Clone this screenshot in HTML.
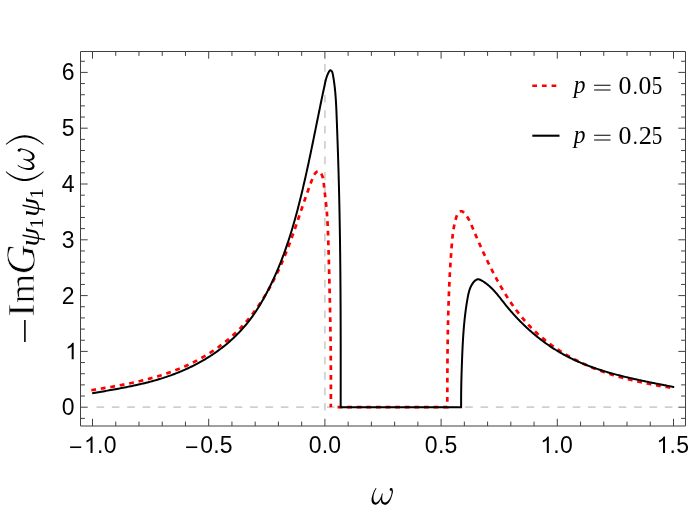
<!DOCTYPE html>
<html><head><meta charset="utf-8"><title>plot</title>
<style>
html,body{margin:0;padding:0;background:#fff;}
body{width:692px;height:523px;overflow:hidden;}
svg{display:block;}
.tl text{font-family:"Liberation Sans",sans-serif;font-size:23.0px;fill:#000;}
text{fill:#000;}
</style></head><body>
<svg width="692" height="523" viewBox="0 0 692 523">
<rect width="692" height="523" fill="#fff"/>
<!-- guide lines -->
<path d="M96.5 407.2 H680" stroke="#cfcfcf" stroke-width="1.7" stroke-dasharray="7.6 7.76" fill="none"/>
<path d="M324.9 410.6 V60" stroke="#cfcfcf" stroke-width="1.7" stroke-dasharray="7.7 7.7" fill="none"/>
<!-- curves -->
<path d="M91.30 390.05 L92.50 390.01 L93.64 389.83 L94.78 389.64 L95.92 389.46 L97.06 389.27 L98.21 389.08 L99.35 388.90 L100.49 388.71 L101.63 388.52 L102.78 388.33 L103.92 388.13 L105.06 387.94 L106.21 387.75 L107.35 387.55 L108.50 387.35 L109.64 387.16 L110.79 386.96 L111.93 386.75 L113.08 386.55 L114.22 386.34 L115.37 386.14 L116.51 385.93 L117.66 385.72 L118.80 385.50 L119.94 385.29 L121.09 385.07 L122.23 384.85 L123.38 384.63 L124.52 384.40 L125.66 384.17 L126.80 383.94 L127.94 383.71 L129.09 383.47 L130.23 383.23 L131.37 382.99 L132.51 382.75 L133.64 382.50 L134.78 382.25 L135.92 381.99 L137.06 381.74 L138.19 381.48 L139.33 381.21 L140.46 380.94 L141.59 380.67 L142.72 380.40 L143.86 380.12 L144.99 379.83 L146.11 379.55 L147.24 379.26 L148.37 378.96 L149.49 378.66 L150.62 378.36 L151.74 378.05 L152.86 377.74 L153.98 377.42 L155.10 377.10 L156.22 376.78 L157.33 376.44 L158.45 376.11 L159.56 375.77 L160.67 375.43 L161.78 375.08 L162.89 374.72 L163.99 374.36 L165.10 374.00 L166.20 373.62 L167.30 373.25 L168.40 372.87 L169.49 372.48 L170.59 372.09 L171.68 371.69 L172.77 371.29 L173.86 370.88 L174.95 370.46 L176.03 370.04 L177.11 369.61 L178.19 369.18 L179.27 368.74 L180.34 368.29 L181.42 367.84 L182.49 367.38 L183.55 366.92 L184.62 366.45 L185.68 365.97 L186.74 365.49 L187.80 365.00 L188.85 364.50 L189.91 364.00 L190.95 363.50 L192.00 362.98 L193.04 362.46 L194.08 361.94 L195.12 361.41 L196.15 360.87 L197.18 360.32 L198.20 359.77 L199.23 359.22 L200.25 358.65 L201.26 358.09 L202.27 357.51 L203.28 356.93 L204.29 356.34 L205.29 355.75 L206.28 355.15 L207.28 354.54 L208.26 353.93 L209.25 353.31 L210.23 352.69 L211.21 352.06 L212.18 351.42 L213.15 350.78 L214.11 350.13 L215.07 349.48 L216.02 348.82 L216.97 348.15 L217.92 347.48 L218.86 346.80 L219.79 346.11 L220.73 345.42 L221.65 344.72 L222.57 344.02 L223.49 343.31 L224.40 342.59 L225.31 341.87 L226.21 341.14 L227.10 340.41 L227.99 339.66 L228.88 338.92 L229.76 338.16 L230.63 337.41 L231.50 336.64 L232.36 335.87 L233.22 335.09 L234.07 334.31 L234.92 333.52 L235.76 332.72 L236.59 331.92 L237.42 331.11 L238.24 330.30 L239.06 329.47 L239.87 328.65 L240.67 327.81 L241.47 326.98 L242.26 326.13 L243.05 325.28 L243.83 324.42 L244.60 323.56 L245.37 322.69 L246.13 321.82 L246.88 320.94 L247.63 320.05 L248.38 319.16 L249.11 318.27 L249.85 317.37 L250.57 316.46 L251.29 315.55 L252.01 314.64 L252.72 313.72 L253.42 312.79 L254.12 311.86 L254.81 310.92 L255.50 309.99 L256.18 309.04 L256.85 308.09 L257.52 307.14 L258.19 306.18 L258.85 305.22 L259.50 304.26 L260.15 303.29 L260.80 302.31 L261.44 301.33 L262.07 300.35 L262.70 299.37 L263.32 298.38 L263.94 297.39 L264.55 296.39 L265.16 295.39 L265.76 294.39 L266.36 293.38 L266.95 292.37 L267.54 291.36 L268.13 290.34 L268.71 289.32 L269.28 288.30 L269.85 287.28 L270.41 286.25 L270.97 285.22 L271.53 284.19 L272.08 283.15 L272.62 282.11 L273.17 281.07 L273.70 280.03 L274.24 278.98 L274.76 277.94 L275.29 276.89 L275.81 275.84 L276.32 274.78 L276.83 273.73 L277.34 272.67 L277.84 271.61 L278.34 270.55 L278.83 269.49 L279.32 268.43 L279.81 267.36 L280.29 266.30 L280.77 265.23 L281.24 264.16 L281.71 263.09 L282.17 262.02 L282.64 260.95 L283.09 259.87 L283.55 258.80 L284.00 257.73 L284.44 256.65 L284.89 255.57 L285.32 254.50 L285.76 253.42 L286.19 252.34 L286.62 251.27 L287.04 250.19 L287.47 249.11 L287.88 248.03 L288.30 246.95 L288.71 245.87 L289.12 244.79 L289.53 243.71 L289.93 242.63 L290.33 241.55 L290.73 240.47 L291.12 239.39 L291.52 238.30 L291.91 237.22 L292.30 236.14 L292.69 235.05 L293.07 233.97 L293.46 232.88 L293.84 231.80 L294.22 230.71 L294.60 229.62 L294.98 228.53 L295.36 227.45 L295.73 226.36 L296.11 225.27 L296.48 224.18 L296.85 223.08 L297.23 221.99 L297.60 220.90 L297.97 219.81 L298.34 218.71 L298.71 217.62 L299.08 216.52 L299.45 215.43 L299.83 214.33 L300.20 213.23 L300.57 212.13 L300.94 211.03 L301.31 209.93 L301.69 208.83 L302.06 207.73 L302.43 206.63 L302.81 205.52 L303.19 204.42 L303.56 203.31 L303.94 202.21 L304.32 201.10 L304.70 199.99 L305.09 198.88 L305.47 197.77 L305.86 196.66 L306.25 195.55 L306.64 194.44 L307.03 193.32 L307.43 192.21 L307.82 191.09 L308.22 189.97 L308.62 188.86 L309.03 187.74 L309.44 186.62 L309.85 185.50 L310.26 184.37 L310.68 183.25 L311.10 182.13 L311.52 181.00 L311.94 179.87 L312.38 178.75 L312.83 177.64 L313.31 176.56 L313.83 175.52 L314.40 174.53 L315.03 173.60 L315.73 172.75 L316.51 172.00 L317.35 171.41 L318.20 171.14 L319.03 171.28 L319.82 171.81 L320.55 172.62 L321.20 173.63 L321.77 174.73 L322.25 175.85 L322.63 177.00 L322.95 178.15 L323.20 179.32 L323.41 180.50 L323.57 181.68 L323.71 182.87 L323.83 184.05 L323.95 185.23 L324.08 186.41 L324.20 187.59 L324.33 188.76 L324.46 189.93 L324.59 191.09 L324.73 192.25 L324.86 193.41 L325.00 194.57 L325.14 195.72 L325.27 196.87 L325.41 198.03 L325.54 199.18 L325.67 200.33 L325.80 201.48 L325.93 202.63 L326.05 203.78 L326.17 204.93 L326.28 206.08 L326.39 207.23 L326.50 208.38 L326.60 209.53 L326.70 210.69 L326.80 211.84 L326.89 213.00 L326.98 214.15 L327.06 215.31 L327.15 216.47 L327.22 217.63 L327.30 218.78 L327.37 219.94 L327.44 221.10 L327.51 222.26 L327.57 223.42 L327.63 224.58 L327.69 225.74 L327.75 226.91 L327.80 228.07 L327.85 229.23 L327.90 230.39 L327.95 231.56 L328.00 232.72 L328.04 233.88 L328.09 235.05 L328.13 236.21 L328.17 237.37 L328.21 238.54 L328.25 239.70 L328.28 240.87 L328.32 242.03 L328.35 243.20 L328.39 244.36 L328.42 245.53 L328.45 246.69 L328.49 247.86 L328.52 249.02 L328.55 250.19 L328.58 251.35 L328.62 252.52 L328.65 253.68 L328.68 254.84 L328.71 256.01 L328.74 257.17 L328.78 258.34 L328.81 259.50 L328.84 260.67 L328.87 261.83 L328.90 262.99 L328.93 264.16 L328.96 265.32 L328.99 266.49 L329.02 267.65 L329.06 268.81 L329.09 269.98 L329.12 271.14 L329.15 272.30 L329.18 273.47 L329.21 274.63 L329.24 275.79 L329.27 276.96 L329.30 278.12 L329.33 279.28 L329.36 280.45 L329.39 281.61 L329.41 282.77 L329.44 283.93 L329.47 285.10 L329.50 286.26 L329.53 287.42 L329.56 288.59 L329.59 289.75 L329.61 290.91 L329.64 292.07 L329.67 293.24 L329.70 294.40 L329.72 295.56 L329.75 296.72 L329.78 297.89 L329.80 299.05 L329.83 300.21 L329.85 301.37 L329.88 302.54 L329.91 303.70 L329.93 304.86 L329.96 306.02 L329.98 307.19 L330.01 308.35 L330.03 309.51 L330.05 310.67 L330.08 311.83 L330.10 313.00 L330.13 314.16 L330.15 315.32 L330.17 316.48 L330.19 317.65 L330.22 318.81 L330.24 319.97 L330.26 321.13 L330.28 322.29 L330.30 323.46 L330.32 324.62 L330.34 325.78 L330.36 326.94 L330.38 328.10 L330.40 329.27 L330.42 330.43 L330.44 331.59 L330.46 332.75 L330.48 333.92 L330.50 335.08 L330.51 336.24 L330.53 337.40 L330.55 338.56 L330.56 339.73 L330.58 340.89 L330.60 342.05 L330.61 343.21 L330.63 344.38 L330.64 345.54 L330.66 346.70 L330.67 347.86 L330.68 349.02 L330.70 350.19 L330.71 351.35 L330.72 352.51 L330.73 353.67 L330.75 354.84 L330.76 356.00 L330.77 357.16 L330.78 358.32 L330.79 359.49 L330.80 360.65 L330.81 361.81 L330.82 362.98 L330.82 364.14 L330.83 365.30 L330.84 366.46 L330.85 367.63 L330.85 368.79 L330.86 369.95 L330.87 371.12 L330.87 372.28 L330.88 373.44 L330.88 374.61 L330.88 375.77 L330.89 376.93 L330.89 378.10 L330.89 379.26 L330.90 380.42 L330.90 381.59 L330.90 382.75 L330.90 383.91 L330.90 385.08 L330.90 386.24 L330.90 387.40 L330.90 388.57 L330.89 389.73 L330.89 390.90 L330.89 392.06 L330.89 393.22 L330.88 394.39 L330.88 395.55 L330.87 396.72 L330.87 397.88 L330.86 399.05 L330.85 400.21 L330.85 401.38 L330.84 402.54 L330.83 403.71 L330.82 404.87 L330.81 406.04 L330.80 407.20" stroke="#ff0000" stroke-width="2.7" stroke-dasharray="4.8 4.810" fill="none" stroke-linejoin="miter"/>
<path d="M333.50 407.20 L447.30 407.20 L447.29 405.96 L447.29 404.73 L447.30 403.51 L447.30 402.28 L447.30 401.05 L447.30 399.82 L447.31 398.59 L447.31 397.35 L447.31 396.12 L447.31 394.89 L447.32 393.66 L447.32 392.43 L447.32 391.19 L447.33 389.96 L447.33 388.72 L447.33 387.49 L447.34 386.25 L447.34 385.02 L447.34 383.78 L447.35 382.55 L447.35 381.31 L447.36 380.07 L447.36 378.83 L447.37 377.60 L447.38 376.36 L447.38 375.12 L447.39 373.88 L447.39 372.64 L447.40 371.40 L447.41 370.16 L447.42 368.92 L447.42 367.68 L447.43 366.44 L447.44 365.20 L447.45 363.96 L447.46 362.72 L447.47 361.48 L447.48 360.23 L447.49 358.99 L447.50 357.75 L447.51 356.51 L447.52 355.26 L447.54 354.02 L447.55 352.78 L447.56 351.54 L447.58 350.29 L447.59 349.05 L447.61 347.80 L447.62 346.56 L447.64 345.32 L447.66 344.07 L447.67 342.83 L447.69 341.58 L447.71 340.34 L447.73 339.10 L447.75 337.85 L447.77 336.61 L447.79 335.36 L447.81 334.12 L447.83 332.87 L447.86 331.63 L447.88 330.38 L447.90 329.14 L447.93 327.90 L447.95 326.65 L447.98 325.41 L448.01 324.16 L448.03 322.92 L448.06 321.67 L448.09 320.43 L448.12 319.19 L448.15 317.94 L448.19 316.70 L448.22 315.45 L448.25 314.21 L448.29 312.97 L448.32 311.72 L448.36 310.48 L448.39 309.24 L448.43 307.99 L448.47 306.75 L448.51 305.51 L448.55 304.26 L448.59 303.02 L448.63 301.78 L448.67 300.54 L448.72 299.30 L448.76 298.05 L448.81 296.81 L448.86 295.57 L448.90 294.33 L448.95 293.09 L449.00 291.85 L449.05 290.61 L449.11 289.37 L449.16 288.13 L449.21 286.89 L449.27 285.65 L449.32 284.42 L449.38 283.18 L449.44 281.94 L449.50 280.70 L449.56 279.47 L449.62 278.23 L449.68 276.99 L449.75 275.76 L449.81 274.52 L449.88 273.29 L449.95 272.05 L450.02 270.82 L450.09 269.58 L450.16 268.35 L450.23 267.12 L450.30 265.89 L450.38 264.65 L450.46 263.42 L450.53 262.19 L450.61 260.96 L450.69 259.73 L450.77 258.50 L450.86 257.27 L450.94 256.04 L451.03 254.82 L451.11 253.59 L451.20 252.36 L451.29 251.14 L451.38 249.91 L451.47 248.69 L451.57 247.46 L451.66 246.24 L451.76 245.02 L451.86 243.79 L451.96 242.57 L452.06 241.35 L452.17 240.13 L452.29 238.90 L452.41 237.68 L452.54 236.45 L452.69 235.23 L452.84 234.00 L453.00 232.77 L453.17 231.53 L453.36 230.30 L453.56 229.06 L453.77 227.82 L454.00 226.57 L454.25 225.33 L454.52 224.07 L454.81 222.82 L455.11 221.56 L455.44 220.29 L455.79 219.02 L456.16 217.74 L456.55 216.46 L456.99 215.21 L457.49 214.05 L458.07 213.01 L458.76 212.17 L459.59 211.57 L460.52 211.25 L461.51 211.24 L462.50 211.56 L463.43 212.20 L464.31 213.05 L465.14 213.99 L465.91 214.96 L466.64 215.96 L467.33 216.99 L467.98 218.05 L468.60 219.12 L469.18 220.22 L469.74 221.33 L470.28 222.46 L470.80 223.60 L471.30 224.75 L471.79 225.91 L472.28 227.07 L472.77 228.22 L473.25 229.38 L473.74 230.54 L474.23 231.69 L474.71 232.85 L475.20 234.00 L475.69 235.15 L476.19 236.29 L476.68 237.44 L477.17 238.58 L477.67 239.72 L478.17 240.87 L478.67 242.00 L479.17 243.14 L479.67 244.28 L480.17 245.41 L480.68 246.55 L481.19 247.68 L481.70 248.81 L482.21 249.93 L482.72 251.06 L483.24 252.19 L483.76 253.31 L484.28 254.43 L484.80 255.55 L485.33 256.67 L485.86 257.79 L486.39 258.91 L486.92 260.02 L487.46 261.13 L488.00 262.25 L488.54 263.36 L489.09 264.46 L489.63 265.57 L490.18 266.68 L490.74 267.78 L491.30 268.89 L491.86 269.99 L492.42 271.09 L492.99 272.19 L493.56 273.29 L494.13 274.38 L494.71 275.48 L495.29 276.57 L495.88 277.66 L496.47 278.76 L497.06 279.84 L497.66 280.93 L498.26 282.02 L498.86 283.10 L499.47 284.18 L500.09 285.26 L500.70 286.33 L501.33 287.41 L501.95 288.48 L502.58 289.55 L503.22 290.61 L503.86 291.67 L504.51 292.73 L505.16 293.79 L505.81 294.84 L506.47 295.89 L507.14 296.94 L507.81 297.98 L508.48 299.02 L509.16 300.05 L509.85 301.09 L510.54 302.11 L511.24 303.14 L511.94 304.16 L512.65 305.17 L513.37 306.18 L514.09 307.19 L514.81 308.19 L515.55 309.19 L516.28 310.18 L517.03 311.17 L517.78 312.15 L518.54 313.13 L519.30 314.10 L520.07 315.07 L520.85 316.03 L521.63 316.99 L522.42 317.94 L523.22 318.89 L524.02 319.83 L524.83 320.76 L525.65 321.69 L526.47 322.61 L527.30 323.53 L528.14 324.44 L528.98 325.34 L529.84 326.24 L530.70 327.13 L531.57 328.01 L532.44 328.89 L533.32 329.76 L534.21 330.62 L535.11 331.48 L536.01 332.33 L536.92 333.17 L537.84 334.01 L538.77 334.83 L539.70 335.66 L540.63 336.47 L541.58 337.28 L542.53 338.08 L543.48 338.88 L544.45 339.67 L545.42 340.45 L546.39 341.22 L547.37 341.99 L548.35 342.75 L549.35 343.50 L550.34 344.25 L551.34 344.98 L552.35 345.72 L553.36 346.44 L554.38 347.16 L555.40 347.87 L556.43 348.57 L557.46 349.27 L558.50 349.95 L559.54 350.63 L560.59 351.31 L561.64 351.97 L562.69 352.63 L563.75 353.28 L564.81 353.93 L565.88 354.57 L566.95 355.19 L568.02 355.82 L569.10 356.43 L570.18 357.04 L571.27 357.64 L572.35 358.23 L573.45 358.81 L574.54 359.39 L575.64 359.96 L576.74 360.53 L577.84 361.08 L578.95 361.63 L580.06 362.17 L581.18 362.71 L582.29 363.24 L583.41 363.76 L584.54 364.27 L585.66 364.78 L586.79 365.28 L587.92 365.78 L589.06 366.27 L590.19 366.75 L591.33 367.22 L592.47 367.69 L593.62 368.16 L594.77 368.61 L595.92 369.07 L597.07 369.51 L598.22 369.95 L599.38 370.38 L600.54 370.81 L601.70 371.23 L602.87 371.65 L604.03 372.06 L605.20 372.46 L606.37 372.86 L607.55 373.25 L608.72 373.64 L609.90 374.02 L611.08 374.40 L612.26 374.77 L613.44 375.14 L614.62 375.50 L615.81 375.86 L617.00 376.21 L618.19 376.55 L619.38 376.89 L620.57 377.23 L621.77 377.56 L622.96 377.89 L624.16 378.21 L625.36 378.53 L626.56 378.84 L627.76 379.15 L628.97 379.46 L630.17 379.76 L631.38 380.05 L632.58 380.34 L633.79 380.63 L635.00 380.91 L636.21 381.19 L637.42 381.47 L638.63 381.74 L639.85 382.00 L641.06 382.27 L642.28 382.53 L643.49 382.78 L644.71 383.03 L645.93 383.28 L647.14 383.53 L648.36 383.77 L649.58 384.01 L650.80 384.24 L652.02 384.47 L653.24 384.70 L654.46 384.93 L655.69 385.15 L656.91 385.37 L658.13 385.58 L659.35 385.80 L660.57 386.01 L661.80 386.21 L663.02 386.42 L664.24 386.62 L665.47 386.82 L666.69 387.02 L667.91 387.21 L669.14 387.40 L670.36 387.59 L671.58 387.78 L672.80 387.96 L674.00 388.30" stroke="#ff0000" stroke-width="2.7" stroke-dasharray="4.8 4.8" stroke-dashoffset="5.6" fill="none" stroke-linejoin="miter"/>
<path d="M92.20 393.30 L93.76 393.06 L95.29 392.79 L96.83 392.51 L98.37 392.24 L99.91 391.97 L101.44 391.70 L102.98 391.43 L104.53 391.15 L106.07 390.88 L107.61 390.61 L109.15 390.34 L110.69 390.06 L112.23 389.78 L113.78 389.50 L115.32 389.22 L116.86 388.94 L118.40 388.65 L119.95 388.37 L121.49 388.07 L123.03 387.78 L124.57 387.48 L126.11 387.18 L127.65 386.87 L129.18 386.56 L130.72 386.25 L132.26 385.93 L133.79 385.60 L135.33 385.27 L136.86 384.94 L138.39 384.59 L139.92 384.25 L141.44 383.89 L142.97 383.53 L144.49 383.16 L146.02 382.79 L147.54 382.41 L149.05 382.02 L150.57 381.62 L152.08 381.21 L153.60 380.80 L155.10 380.38 L156.61 379.94 L158.11 379.50 L159.61 379.05 L161.11 378.59 L162.61 378.12 L164.10 377.65 L165.59 377.15 L167.07 376.65 L168.56 376.14 L170.04 375.62 L171.51 375.09 L172.98 374.55 L174.45 373.99 L175.91 373.43 L177.37 372.85 L178.83 372.27 L180.28 371.67 L181.72 371.06 L183.16 370.45 L184.60 369.82 L186.03 369.18 L187.45 368.52 L188.87 367.86 L190.29 367.19 L191.70 366.50 L193.10 365.81 L194.50 365.10 L195.89 364.38 L197.27 363.65 L198.65 362.91 L200.02 362.16 L201.39 361.40 L202.75 360.62 L204.10 359.83 L205.44 359.04 L206.78 358.23 L208.11 357.40 L209.43 356.57 L210.74 355.73 L212.05 354.87 L213.35 354.00 L214.64 353.12 L215.92 352.23 L217.19 351.33 L218.46 350.41 L219.72 349.49 L220.96 348.55 L222.20 347.60 L223.43 346.63 L224.65 345.66 L225.86 344.67 L227.06 343.67 L228.25 342.66 L229.44 341.63 L230.61 340.60 L231.77 339.55 L232.92 338.49 L234.06 337.42 L235.19 336.33 L236.31 335.23 L237.42 334.12 L238.52 333.00 L239.61 331.86 L240.68 330.71 L241.74 329.55 L242.80 328.38 L243.84 327.20 L244.87 326.00 L245.88 324.79 L246.89 323.57 L247.88 322.34 L248.86 321.10 L249.82 319.85 L250.77 318.60 L251.71 317.33 L252.64 316.06 L253.55 314.77 L254.45 313.48 L255.33 312.19 L256.20 310.89 L257.05 309.58 L257.89 308.26 L258.71 306.94 L259.53 305.62 L260.33 304.29 L261.12 302.95 L261.90 301.61 L262.67 300.26 L263.43 298.90 L264.18 297.54 L264.93 296.18 L265.67 294.80 L266.41 293.42 L267.14 292.04 L267.86 290.65 L268.57 289.26 L269.28 287.86 L269.98 286.45 L270.67 285.05 L271.35 283.64 L272.03 282.22 L272.70 280.80 L273.36 279.38 L274.02 277.95 L274.67 276.52 L275.31 275.09 L275.94 273.65 L276.57 272.21 L277.19 270.77 L277.80 269.33 L278.41 267.88 L279.01 266.43 L279.60 264.98 L280.18 263.53 L280.76 262.07 L281.33 260.61 L281.90 259.15 L282.46 257.69 L283.01 256.22 L283.56 254.76 L284.10 253.29 L284.63 251.81 L285.16 250.34 L285.68 248.86 L286.20 247.39 L286.71 245.91 L287.21 244.42 L287.71 242.94 L288.21 241.45 L288.70 239.97 L289.18 238.48 L289.66 236.99 L290.13 235.49 L290.60 234.00 L291.07 232.50 L291.53 231.01 L291.98 229.51 L292.43 228.01 L292.88 226.51 L293.32 225.00 L293.75 223.50 L294.19 221.99 L294.61 220.49 L295.04 218.98 L295.46 217.47 L295.88 215.96 L296.29 214.45 L296.70 212.94 L297.10 211.42 L297.50 209.91 L297.90 208.39 L298.30 206.88 L298.69 205.36 L299.08 203.84 L299.46 202.33 L299.85 200.81 L300.23 199.29 L300.60 197.77 L300.98 196.25 L301.35 194.73 L301.72 193.20 L302.08 191.68 L302.45 190.16 L302.81 188.64 L303.17 187.11 L303.52 185.59 L303.88 184.06 L304.23 182.54 L304.58 181.01 L304.93 179.49 L305.27 177.96 L305.62 176.43 L305.96 174.90 L306.30 173.38 L306.63 171.85 L306.97 170.32 L307.31 168.79 L307.64 167.26 L307.97 165.73 L308.30 164.20 L308.63 162.67 L308.95 161.14 L309.28 159.61 L309.60 158.07 L309.93 156.54 L310.25 155.01 L310.57 153.48 L310.89 151.94 L311.21 150.41 L311.53 148.88 L311.84 147.34 L312.16 145.81 L312.47 144.27 L312.79 142.74 L313.10 141.20 L313.42 139.67 L313.73 138.13 L314.04 136.60 L314.35 135.06 L314.66 133.53 L314.98 131.99 L315.29 130.45 L315.60 128.92 L315.91 127.38 L316.22 125.84 L316.53 124.31 L316.84 122.77 L317.15 121.23 L317.46 119.69 L317.77 118.16 L318.09 116.62 L318.40 115.08 L318.71 113.54 L319.02 112.01 L319.34 110.47 L319.65 108.93 L319.97 107.39 L320.28 105.86 L320.60 104.32 L320.92 102.78 L321.23 101.24 L321.55 99.70 L321.87 98.17 L322.19 96.63 L322.52 95.09 L322.84 93.55 L323.16 92.02 L323.49 90.48 L323.82 88.94 L324.15 87.40 L324.48 85.87 L324.81 84.33 L325.14 82.79 L325.49 81.26 L325.87 79.74 L326.29 78.24 L326.75 76.75 L327.27 75.29 L327.87 73.85 L328.55 72.45 L329.33 71.09 L330.27 70.19 L331.39 70.77 L332.20 72.03 L332.66 73.52 L332.97 75.10 L333.25 76.69 L333.51 78.28 L333.76 79.86 L334.00 81.44 L334.22 83.02 L334.42 84.60 L334.61 86.17 L334.80 87.74 L334.96 89.31 L335.12 90.88 L335.27 92.45 L335.41 94.01 L335.53 95.58 L335.65 97.14 L335.76 98.71 L335.87 100.27 L335.96 101.83 L336.05 103.39 L336.14 104.95 L336.21 106.50 L336.29 108.06 L336.36 109.62 L336.43 111.18 L336.49 112.74 L336.55 114.30 L336.61 115.86 L336.67 117.41 L336.73 118.97 L336.79 120.53 L336.85 122.09 L336.91 123.66 L336.97 125.22 L337.02 126.78 L337.08 128.34 L337.14 129.91 L337.20 131.47 L337.26 133.03 L337.31 134.60 L337.37 136.16 L337.42 137.73 L337.48 139.29 L337.54 140.86 L337.59 142.42 L337.65 143.99 L337.70 145.55 L337.75 147.12 L337.81 148.69 L337.86 150.26 L337.91 151.82 L337.97 153.39 L338.02 154.96 L338.07 156.52 L338.12 158.09 L338.17 159.66 L338.22 161.23 L338.27 162.79 L338.32 164.36 L338.36 165.93 L338.41 167.50 L338.46 169.07 L338.50 170.63 L338.55 172.20 L338.59 173.77 L338.64 175.34 L338.68 176.90 L338.72 178.47 L338.77 180.04 L338.81 181.61 L338.85 183.17 L338.89 184.74 L338.93 186.31 L338.97 187.87 L339.01 189.44 L339.05 191.01 L339.08 192.58 L339.12 194.14 L339.16 195.71 L339.19 197.28 L339.23 198.84 L339.27 200.41 L339.30 201.98 L339.33 203.54 L339.37 205.11 L339.40 206.68 L339.43 208.25 L339.46 209.81 L339.50 211.38 L339.53 212.95 L339.56 214.51 L339.59 216.08 L339.62 217.65 L339.64 219.21 L339.67 220.78 L339.70 222.35 L339.73 223.91 L339.75 225.48 L339.78 227.05 L339.81 228.61 L339.83 230.18 L339.86 231.74 L339.88 233.31 L339.91 234.88 L339.93 236.44 L339.95 238.01 L339.97 239.58 L340.00 241.14 L340.02 242.71 L340.04 244.28 L340.06 245.84 L340.08 247.41 L340.10 248.97 L340.12 250.54 L340.14 252.11 L340.16 253.67 L340.18 255.24 L340.20 256.81 L340.21 258.37 L340.23 259.94 L340.25 261.50 L340.26 263.07 L340.28 264.64 L340.30 266.20 L340.31 267.77 L340.33 269.34 L340.34 270.90 L340.36 272.47 L340.37 274.03 L340.38 275.60 L340.40 277.17 L340.41 278.73 L340.42 280.30 L340.43 281.87 L340.45 283.43 L340.46 285.00 L340.47 286.56 L340.48 288.13 L340.49 289.70 L340.50 291.26 L340.51 292.83 L340.52 294.39 L340.53 295.96 L340.54 297.53 L340.55 299.09 L340.55 300.66 L340.56 302.23 L340.57 303.79 L340.58 305.36 L340.59 306.92 L340.59 308.49 L340.60 310.06 L340.61 311.62 L340.61 313.19 L340.62 314.76 L340.62 316.32 L340.63 317.89 L340.64 319.45 L340.64 321.02 L340.65 322.59 L340.65 324.15 L340.65 325.72 L340.66 327.29 L340.66 328.85 L340.67 330.42 L340.67 331.98 L340.67 333.55 L340.68 335.12 L340.68 336.68 L340.68 338.25 L340.68 339.82 L340.69 341.38 L340.69 342.95 L340.69 344.52 L340.69 346.08 L340.69 347.65 L340.70 349.22 L340.70 350.78 L340.70 352.35 L340.70 353.92 L340.70 355.48 L340.70 357.05 L340.70 358.62 L340.70 360.18 L340.70 361.75 L340.70 363.32 L340.70 364.88 L340.70 366.45 L340.70 368.02 L340.70 369.59 L340.70 371.15 L340.70 372.72 L340.70 374.29 L340.70 375.85 L340.70 377.42 L340.70 378.99 L340.70 380.56 L340.69 382.12 L340.69 383.69 L340.69 385.26 L340.69 386.83 L340.69 388.39 L340.69 389.96 L340.69 391.53 L340.68 393.10 L340.68 394.66 L340.68 396.23 L340.68 397.80 L340.68 399.37 L340.68 400.93 L340.67 402.50 L340.67 404.07 L340.67 405.64 L340.70 407.20 L461.10 407.20 L461.12 406.28 L461.12 405.37 L461.11 404.47 L461.11 403.56 L461.11 402.66 L461.11 401.75 L461.11 400.84 L461.11 399.94 L461.11 399.03 L461.11 398.12 L461.12 397.21 L461.13 396.30 L461.13 395.39 L461.14 394.48 L461.15 393.57 L461.16 392.66 L461.17 391.75 L461.18 390.84 L461.20 389.93 L461.21 389.02 L461.22 388.11 L461.24 387.19 L461.26 386.28 L461.27 385.37 L461.29 384.46 L461.31 383.55 L461.33 382.63 L461.35 381.72 L461.37 380.81 L461.40 379.90 L461.42 378.98 L461.44 378.07 L461.47 377.16 L461.49 376.24 L461.52 375.33 L461.54 374.42 L461.57 373.51 L461.60 372.59 L461.63 371.68 L461.66 370.77 L461.69 369.86 L461.72 368.94 L461.75 368.03 L461.78 367.12 L461.81 366.21 L461.84 365.30 L461.87 364.39 L461.91 363.48 L461.94 362.57 L461.97 361.66 L462.01 360.75 L462.04 359.84 L462.08 358.93 L462.11 358.02 L462.15 357.11 L462.18 356.20 L462.22 355.29 L462.26 354.39 L462.30 353.48 L462.33 352.57 L462.37 351.66 L462.41 350.76 L462.45 349.85 L462.50 348.94 L462.54 348.04 L462.58 347.13 L462.63 346.23 L462.67 345.32 L462.72 344.42 L462.77 343.51 L462.82 342.61 L462.87 341.70 L462.92 340.80 L462.97 339.89 L463.03 338.99 L463.08 338.08 L463.14 337.18 L463.20 336.28 L463.26 335.37 L463.32 334.47 L463.38 333.56 L463.45 332.66 L463.51 331.76 L463.58 330.85 L463.65 329.95 L463.72 329.04 L463.80 328.14 L463.87 327.23 L463.95 326.33 L464.03 325.43 L464.11 324.52 L464.20 323.62 L464.28 322.71 L464.37 321.81 L464.46 320.90 L464.55 320.00 L464.65 319.10 L464.75 318.19 L464.85 317.28 L464.95 316.38 L465.05 315.47 L465.16 314.57 L465.27 313.66 L465.38 312.76 L465.50 311.85 L465.62 310.94 L465.74 310.04 L465.86 309.13 L465.99 308.22 L466.12 307.31 L466.25 306.41 L466.39 305.50 L466.52 304.59 L466.67 303.68 L466.81 302.77 L466.96 301.86 L467.11 300.95 L467.26 300.04 L467.42 299.13 L467.58 298.22 L467.75 297.31 L467.92 296.40 L468.10 295.49 L468.28 294.59 L468.48 293.69 L468.70 292.80 L468.93 291.91 L469.17 291.03 L469.44 290.16 L469.73 289.30 L470.04 288.45 L470.37 287.61 L470.73 286.79 L471.12 285.98 L471.55 285.18 L472.00 284.41 L472.49 283.65 L473.02 282.91 L473.58 282.19 L474.18 281.50 L474.82 280.86 L475.50 280.30 L476.20 279.84 L476.94 279.51 L477.70 279.32 L478.48 279.31 L479.28 279.45 L480.09 279.72 L480.91 280.09 L481.73 280.53 L482.54 281.02 L483.34 281.53 L484.13 282.05 L484.91 282.59 L485.67 283.14 L486.43 283.70 L487.16 284.27 L487.89 284.86 L488.60 285.45 L489.30 286.06 L489.98 286.67 L490.66 287.30 L491.32 287.93 L491.97 288.57 L492.61 289.22 L493.24 289.88 L493.87 290.54 L494.48 291.21 L495.09 291.89 L495.69 292.57 L496.28 293.25 L496.87 293.95 L497.45 294.64 L498.02 295.34 L498.60 296.05 L499.16 296.75 L499.73 297.46 L500.29 298.17 L500.85 298.89 L501.41 299.60 L501.97 300.31 L502.53 301.03 L503.09 301.74 L503.65 302.46 L504.21 303.17 L504.78 303.88 L505.34 304.59 L505.91 305.30 L506.49 306.01 L507.06 306.71 L507.64 307.41 L508.22 308.11 L508.81 308.81 L509.40 309.50 L509.99 310.20 L510.58 310.89 L511.18 311.57 L511.78 312.26 L512.38 312.94 L512.99 313.62 L513.59 314.30 L514.21 314.98 L514.82 315.65 L515.44 316.32 L516.06 316.99 L516.68 317.65 L517.31 318.32 L517.93 318.98 L518.57 319.63 L519.20 320.29 L519.84 320.94 L520.48 321.59 L521.12 322.24 L521.77 322.88 L522.42 323.52 L523.07 324.16 L523.72 324.80 L524.38 325.43 L525.04 326.06 L525.70 326.69 L526.37 327.31 L527.03 327.93 L527.70 328.55 L528.38 329.16 L529.05 329.78 L529.73 330.38 L530.41 330.99 L531.10 331.59 L531.78 332.19 L532.47 332.79 L533.17 333.38 L533.86 333.97 L534.56 334.56 L535.26 335.14 L535.96 335.72 L536.67 336.29 L537.37 336.87 L538.08 337.44 L538.80 338.00 L539.51 338.56 L540.23 339.12 L540.95 339.68 L541.67 340.23 L542.40 340.78 L543.13 341.32 L543.86 341.86 L544.59 342.40 L545.33 342.94 L546.07 343.47 L546.81 343.99 L547.55 344.51 L548.30 345.03 L549.04 345.55 L549.80 346.06 L550.55 346.57 L551.30 347.07 L552.06 347.57 L552.82 348.06 L553.59 348.55 L554.35 349.04 L555.12 349.52 L555.89 350.00 L556.66 350.48 L557.44 350.95 L558.21 351.42 L558.99 351.88 L559.77 352.34 L560.56 352.79 L561.34 353.24 L562.13 353.69 L562.92 354.13 L563.72 354.57 L564.51 355.00 L565.31 355.43 L566.11 355.85 L566.91 356.27 L567.72 356.69 L568.52 357.10 L569.33 357.51 L570.14 357.91 L570.96 358.31 L571.77 358.71 L572.59 359.10 L573.41 359.48 L574.23 359.87 L575.05 360.25 L575.88 360.62 L576.70 361.00 L577.53 361.36 L578.36 361.73 L579.19 362.09 L580.03 362.45 L580.86 362.80 L581.70 363.15 L582.54 363.50 L583.38 363.84 L584.22 364.18 L585.07 364.52 L585.91 364.85 L586.76 365.18 L587.61 365.50 L588.46 365.83 L589.31 366.15 L590.16 366.46 L591.02 366.78 L591.87 367.09 L592.73 367.39 L593.59 367.70 L594.45 368.00 L595.31 368.30 L596.17 368.59 L597.04 368.88 L597.90 369.17 L598.77 369.46 L599.64 369.74 L600.51 370.02 L601.37 370.30 L602.25 370.57 L603.12 370.85 L603.99 371.11 L604.87 371.38 L605.74 371.65 L606.62 371.91 L607.49 372.17 L608.37 372.42 L609.25 372.68 L610.13 372.93 L611.01 373.18 L611.89 373.43 L612.77 373.67 L613.66 373.92 L614.54 374.16 L615.42 374.39 L616.31 374.63 L617.20 374.86 L618.08 375.10 L618.97 375.33 L619.86 375.55 L620.74 375.78 L621.63 376.00 L622.52 376.23 L623.41 376.45 L624.30 376.67 L625.19 376.88 L626.08 377.10 L626.97 377.31 L627.86 377.52 L628.76 377.73 L629.65 377.94 L630.54 378.15 L631.43 378.35 L632.33 378.55 L633.22 378.76 L634.11 378.96 L635.01 379.16 L635.90 379.35 L636.79 379.55 L637.69 379.75 L638.58 379.94 L639.47 380.13 L640.37 380.32 L641.26 380.51 L642.15 380.70 L643.05 380.89 L643.94 381.08 L644.83 381.26 L645.73 381.45 L646.62 381.63 L647.51 381.82 L648.40 382.00 L649.30 382.18 L650.19 382.36 L651.08 382.54 L651.97 382.72 L652.86 382.90 L653.75 383.08 L654.64 383.25 L655.53 383.43 L656.42 383.61 L657.30 383.78 L658.19 383.96 L659.08 384.13 L659.97 384.31 L660.85 384.48 L661.74 384.65 L662.62 384.83 L663.51 385.00 L664.39 385.17 L665.27 385.34 L666.15 385.52 L667.03 385.69 L667.91 385.86 L668.79 386.03 L669.67 386.21 L670.55 386.38 L671.42 386.55 L672.30 386.72 L673.17 386.89 L674.20 386.90" stroke="#000" stroke-width="2.0" fill="none" stroke-linejoin="miter" stroke-miterlimit="10"/>
<!-- frame -->
<path d="M92.50 426.00 v-7.20 M92.50 51.50 v7.20 M115.74 426.00 v-4.40 M115.74 51.50 v4.40 M138.98 426.00 v-4.40 M138.98 51.50 v4.40 M162.22 426.00 v-4.40 M162.22 51.50 v4.40 M185.46 426.00 v-4.40 M185.46 51.50 v4.40 M208.70 426.00 v-7.20 M208.70 51.50 v7.20 M231.94 426.00 v-4.40 M231.94 51.50 v4.40 M255.18 426.00 v-4.40 M255.18 51.50 v4.40 M278.42 426.00 v-4.40 M278.42 51.50 v4.40 M301.66 426.00 v-4.40 M301.66 51.50 v4.40 M324.90 426.00 v-7.20 M324.90 51.50 v7.20 M348.14 426.00 v-4.40 M348.14 51.50 v4.40 M371.38 426.00 v-4.40 M371.38 51.50 v4.40 M394.62 426.00 v-4.40 M394.62 51.50 v4.40 M417.86 426.00 v-4.40 M417.86 51.50 v4.40 M441.10 426.00 v-7.20 M441.10 51.50 v7.20 M464.34 426.00 v-4.40 M464.34 51.50 v4.40 M487.58 426.00 v-4.40 M487.58 51.50 v4.40 M510.82 426.00 v-4.40 M510.82 51.50 v4.40 M534.06 426.00 v-4.40 M534.06 51.50 v4.40 M557.30 426.00 v-7.20 M557.30 51.50 v7.20 M580.54 426.00 v-4.40 M580.54 51.50 v4.40 M603.78 426.00 v-4.40 M603.78 51.50 v4.40 M627.02 426.00 v-4.40 M627.02 51.50 v4.40 M650.26 426.00 v-4.40 M650.26 51.50 v4.40 M673.50 426.00 v-7.20 M673.50 51.50 v7.20 M80.50 418.36 h4.40 M685.50 418.36 h-4.40 M80.50 407.20 h7.20 M685.50 407.20 h-7.20 M80.50 396.04 h4.40 M685.50 396.04 h-4.40 M80.50 384.88 h4.40 M685.50 384.88 h-4.40 M80.50 373.72 h4.40 M685.50 373.72 h-4.40 M80.50 362.56 h4.40 M685.50 362.56 h-4.40 M80.50 351.40 h7.20 M685.50 351.40 h-7.20 M80.50 340.24 h4.40 M685.50 340.24 h-4.40 M80.50 329.08 h4.40 M685.50 329.08 h-4.40 M80.50 317.92 h4.40 M685.50 317.92 h-4.40 M80.50 306.76 h4.40 M685.50 306.76 h-4.40 M80.50 295.60 h7.20 M685.50 295.60 h-7.20 M80.50 284.44 h4.40 M685.50 284.44 h-4.40 M80.50 273.28 h4.40 M685.50 273.28 h-4.40 M80.50 262.12 h4.40 M685.50 262.12 h-4.40 M80.50 250.96 h4.40 M685.50 250.96 h-4.40 M80.50 239.80 h7.20 M685.50 239.80 h-7.20 M80.50 228.64 h4.40 M685.50 228.64 h-4.40 M80.50 217.48 h4.40 M685.50 217.48 h-4.40 M80.50 206.32 h4.40 M685.50 206.32 h-4.40 M80.50 195.16 h4.40 M685.50 195.16 h-4.40 M80.50 184.00 h7.20 M685.50 184.00 h-7.20 M80.50 172.84 h4.40 M685.50 172.84 h-4.40 M80.50 161.68 h4.40 M685.50 161.68 h-4.40 M80.50 150.52 h4.40 M685.50 150.52 h-4.40 M80.50 139.36 h4.40 M685.50 139.36 h-4.40 M80.50 128.20 h7.20 M685.50 128.20 h-7.20 M80.50 117.04 h4.40 M685.50 117.04 h-4.40 M80.50 105.88 h4.40 M685.50 105.88 h-4.40 M80.50 94.72 h4.40 M685.50 94.72 h-4.40 M80.50 83.56 h4.40 M685.50 83.56 h-4.40 M80.50 72.40 h7.20 M685.50 72.40 h-7.20 M80.50 61.24 h4.40 M685.50 61.24 h-4.40" stroke="#404040" stroke-width="1" fill="none"/>
<path d="M80.5 51.5 H685.5 V426.0 H80.5 Z" stroke="#404040" stroke-width="1" fill="none"/>
<g class="tl" opacity="0.999"><text x="68.91" y="454.80">−</text><path transform="translate(83.99 453.00) scale(0.01123 -0.01123)" d="M763 0H583V1147Q518 1085 412.5 1023T223 930V1104Q373 1174.5 485.5 1275T645 1470H763Z" fill="#000"/><text x="97.03" y="453.00">.</text><text x="103.67" y="453.00">0</text><text x="185.11" y="454.80">−</text><text x="200.19" y="453.00">0</text><text x="213.23" y="453.00">.</text><text x="219.87" y="453.00">5</text><text x="308.66" y="453.00">0</text><text x="321.70" y="453.00">.</text><text x="328.35" y="453.00">0</text><text x="424.86" y="453.00">0</text><text x="437.90" y="453.00">.</text><text x="444.55" y="453.00">5</text><path transform="translate(540.26 453.00) scale(0.01123 -0.01123)" d="M763 0H583V1147Q518 1085 412.5 1023T223 930V1104Q373 1174.5 485.5 1275T645 1470H763Z" fill="#000"/><text x="553.30" y="453.00">.</text><text x="559.94" y="453.00">0</text><path transform="translate(656.46 453.00) scale(0.01123 -0.01123)" d="M763 0H583V1147Q518 1085 412.5 1023T223 930V1104Q373 1174.5 485.5 1275T645 1470H763Z" fill="#000"/><text x="669.50" y="453.00">.</text><text x="676.14" y="453.00">5</text><text x="61.81" y="415.10">0</text><path transform="translate(65.12 359.30) scale(0.01123 -0.01123)" d="M763 0H583V1147Q518 1085 412.5 1023T223 930V1104Q373 1174.5 485.5 1275T645 1470H763Z" fill="#000"/><text x="61.81" y="303.50">2</text><text x="61.81" y="247.70">3</text><text x="61.81" y="191.90">4</text><text x="61.81" y="136.10">5</text><text x="61.81" y="80.30">6</text></g>
<!-- legend -->
<path d="M532.3 85.8 H557" stroke="#ff0000" stroke-width="2.6" stroke-dasharray="4.7 4.95" fill="none"/>
<path d="M532.3 135.7 H559.5" stroke="#000" stroke-width="2.1" fill="none"/>
<g style="filter:opacity(0.999)"><path d="M594.1 85.25 H610.5 M594.1 90 H610.5 M594.1 135.25 H610.5 M594.1 140 H610.5" stroke="#000" stroke-width="1.1" fill="none"/><text transform="translate(573.68 93.39) scale(0.9606 1.0410)" font-family='"Liberation Serif",serif' font-style="italic" font-size="24.43" >p</text><text transform="translate(618.61 94.25) scale(1.0091 0.9910)" font-family='"Liberation Serif",serif' font-style="normal" font-size="25.72" >0</text><text transform="translate(632.66 94.11) scale(1.0000 1.0000)" font-family='"Liberation Serif",serif' font-style="normal" font-size="20.31" >.</text><text transform="translate(638.42 94.25) scale(1.0045 0.9955)" font-family='"Liberation Serif",serif' font-style="normal" font-size="25.60" >0</text><text transform="translate(651.77 94.25) scale(0.9082 1.1011)" font-family='"Liberation Serif",serif' font-style="normal" font-size="23.23" >5</text><text transform="translate(573.68 143.39) scale(0.9606 1.0410)" font-family='"Liberation Serif",serif' font-style="italic" font-size="24.43" >p</text><text transform="translate(618.61 144.25) scale(1.0091 0.9910)" font-family='"Liberation Serif",serif' font-style="normal" font-size="25.72" >0</text><text transform="translate(632.66 144.11) scale(1.0000 1.0000)" font-family='"Liberation Serif",serif' font-style="normal" font-size="20.31" >.</text><text transform="translate(638.64 144.30) scale(1.0148 0.9854)" font-family='"Liberation Serif",serif' font-style="normal" font-size="26.06" >2</text><text transform="translate(651.77 144.25) scale(0.9082 1.1011)" font-family='"Liberation Serif",serif' font-style="normal" font-size="23.23" >5</text></g>
<!-- x label -->
<path d="M375.83 487.88 L375.57 488.25 L375.31 488.64 L375.05 489.04 L374.80 489.47 L374.55 489.91 L374.32 490.36 L374.08 490.83 L373.86 491.31 L373.65 491.80 L373.44 492.29 L373.23 492.80 L373.04 493.31 L372.86 493.82 L372.68 494.34 L372.51 494.86 L372.34 495.38 L372.19 495.90 L372.05 496.42 L371.92 496.94 L371.81 497.46 L371.71 497.98 L371.63 498.49 L371.57 499.00 L371.54 499.42 L371.53 499.83 L371.53 500.23 L371.56 500.62 L371.61 500.99 L371.68 501.35 L371.77 501.70 L371.87 502.04 L372.00 502.36 L372.15 502.66 L372.33 502.95 L372.52 503.22 L372.73 503.48 L372.96 503.71 L373.21 503.92 L373.47 504.10 L373.75 504.26 L374.05 504.39 L374.35 504.49 L374.66 504.57 L374.97 504.62 L375.28 504.63 L375.63 504.63 L376.08 504.56 L376.54 504.43 L376.98 504.25 L377.40 504.02 L377.79 503.74 L378.16 503.42 L378.52 503.07 L378.86 502.69 L379.18 502.27 L379.50 501.83 L379.80 501.35 L380.10 500.86 L380.39 500.33 L380.67 499.78 L380.94 499.21 L381.21 498.61 L381.47 497.99 L381.72 497.34 L381.96 496.67 L382.19 495.99 L382.40 495.28 L382.60 494.55 L382.79 493.81 L381.91 493.59 L381.73 494.32 L381.53 495.02 L381.32 495.70 L381.09 496.36 L380.84 497.00 L380.58 497.61 L380.31 498.19 L380.03 498.75 L379.73 499.27 L379.42 499.75 L379.10 500.21 L378.77 500.62 L378.44 500.99 L378.11 501.33 L377.78 501.62 L377.45 501.87 L377.13 502.07 L376.82 502.24 L376.53 502.36 L376.27 502.44 L376.02 502.48 L375.80 502.49 L375.57 502.47 L375.45 502.45 L375.32 502.41 L375.19 502.37 L375.08 502.33 L374.98 502.27 L374.88 502.21 L374.78 502.14 L374.69 502.06 L374.60 501.98 L374.51 501.88 L374.43 501.77 L374.34 501.64 L374.25 501.50 L374.16 501.34 L374.07 501.16 L373.99 500.97 L373.91 500.75 L373.83 500.51 L373.76 500.25 L373.69 499.97 L373.63 499.67 L373.58 499.35 L373.53 499.00 L373.49 498.56 L373.46 498.10 L373.45 497.63 L373.46 497.15 L373.49 496.66 L373.53 496.16 L373.60 495.66 L373.68 495.15 L373.78 494.65 L373.90 494.14 L374.04 493.64 L374.19 493.14 L374.36 492.65 L374.54 492.16 L374.73 491.69 L374.93 491.23 L375.14 490.78 L375.36 490.34 L375.59 489.92 L375.83 489.52 L376.07 489.13 L376.31 488.77 L376.57 488.42Z M381.90 493.58 L381.71 494.24 L381.53 494.91 L381.38 495.57 L381.24 496.22 L381.12 496.86 L381.02 497.49 L380.94 498.10 L380.88 498.71 L380.85 499.29 L380.84 499.87 L380.87 500.43 L380.93 500.97 L381.04 501.50 L381.19 502.01 L381.38 502.49 L381.64 502.95 L381.96 503.38 L382.34 503.76 L382.78 504.09 L383.27 504.36 L383.82 504.55 L384.39 504.66 L385.02 504.70 L385.72 504.63 L386.40 504.44 L387.04 504.14 L387.62 503.75 L388.16 503.28 L388.66 502.75 L389.11 502.17 L389.53 501.54 L389.92 500.87 L390.28 500.17 L390.62 499.44 L390.94 498.69 L391.24 497.92 L391.53 497.14 L391.79 496.35 L392.04 495.55 L392.27 494.76 L392.49 493.97 L392.68 493.19 L392.85 492.41 L392.97 491.65 L393.04 490.90 L393.05 490.20 L391.65 490.20 L391.66 490.86 L391.65 491.54 L391.61 492.25 L391.55 492.99 L391.44 493.74 L391.28 494.50 L391.08 495.27 L390.84 496.02 L390.55 496.76 L390.23 497.48 L389.87 498.18 L389.48 498.83 L389.07 499.45 L388.64 500.02 L388.19 500.53 L387.74 500.99 L387.29 501.38 L386.85 501.71 L386.43 501.98 L386.03 502.17 L385.66 502.30 L385.32 502.38 L384.98 502.40 L384.65 502.38 L384.36 502.34 L384.10 502.28 L383.87 502.19 L383.66 502.08 L383.46 501.94 L383.27 501.75 L383.08 501.53 L382.90 501.26 L382.73 500.94 L382.58 500.57 L382.45 500.16 L382.35 499.72 L382.26 499.23 L382.21 498.71 L382.18 498.17 L382.19 497.59 L382.22 497.00 L382.28 496.39 L382.37 495.77 L382.49 495.13 L382.63 494.48 L382.80 493.82Z" fill="#000"/><ellipse cx="391.15" cy="489.55" rx="1.45" ry="1.45" fill="#000"/>
<!-- y label -->
<path d="M24.9 342 V319.9" stroke="#000" stroke-width="1.6" fill="none"/>
<path d="M6.29 144.65 L6.93 144.13 L7.57 143.64 L8.21 143.17 L8.85 142.72 L9.49 142.30 L10.13 141.89 L10.78 141.51 L11.42 141.14 L12.06 140.79 L12.70 140.46 L13.33 140.15 L13.97 139.86 L14.60 139.58 L15.23 139.33 L15.86 139.09 L16.48 138.87 L17.11 138.66 L17.73 138.47 L18.35 138.30 L18.96 138.14 L19.58 138.00 L20.19 137.88 L20.80 137.77 L21.41 137.68 L22.02 137.60 L22.63 137.54 L23.24 137.50 L23.84 137.47 L24.45 137.45 L25.05 137.45 L25.66 137.47 L26.26 137.50 L26.87 137.54 L27.48 137.60 L28.09 137.68 L28.70 137.77 L29.31 137.88 L29.92 138.00 L30.54 138.14 L31.15 138.30 L31.77 138.47 L32.39 138.66 L33.02 138.87 L33.64 139.09 L34.27 139.33 L34.90 139.58 L35.53 139.86 L36.17 140.15 L36.80 140.46 L37.44 140.79 L38.08 141.14 L38.72 141.51 L39.37 141.89 L40.01 142.30 L40.65 142.72 L41.29 143.17 L41.93 143.64 L42.57 144.13 L43.21 144.65 L43.79 143.95 L43.15 143.42 L42.52 142.89 L41.89 142.38 L41.26 141.88 L40.64 141.40 L40.01 140.93 L39.38 140.49 L38.75 140.05 L38.12 139.64 L37.48 139.24 L36.85 138.86 L36.21 138.50 L35.57 138.16 L34.93 137.84 L34.29 137.53 L33.64 137.24 L33.00 136.98 L32.35 136.73 L31.69 136.50 L31.04 136.29 L30.38 136.11 L29.72 135.94 L29.07 135.79 L28.40 135.67 L27.74 135.56 L27.08 135.48 L26.41 135.42 L25.75 135.37 L25.08 135.35 L24.42 135.35 L23.75 135.37 L23.09 135.42 L22.42 135.48 L21.76 135.56 L21.10 135.67 L20.43 135.79 L19.78 135.94 L19.12 136.11 L18.46 136.29 L17.81 136.50 L17.15 136.73 L16.50 136.98 L15.86 137.24 L15.21 137.53 L14.57 137.84 L13.93 138.16 L13.29 138.50 L12.65 138.86 L12.02 139.24 L11.38 139.64 L10.75 140.05 L10.12 140.49 L9.49 140.93 L8.86 141.40 L8.24 141.88 L7.61 142.38 L6.98 142.89 L6.35 143.42 L5.71 143.95Z" fill="#000"/><path d="M5.70 172.04 L6.34 172.60 L6.97 173.15 L7.60 173.69 L8.22 174.21 L8.85 174.72 L9.48 175.21 L10.11 175.68 L10.74 176.13 L11.37 176.56 L12.00 176.98 L12.64 177.37 L13.27 177.75 L13.91 178.11 L14.55 178.45 L15.20 178.77 L15.84 179.07 L16.49 179.35 L17.14 179.61 L17.79 179.85 L18.45 180.06 L19.11 180.26 L19.76 180.43 L20.43 180.59 L21.09 180.72 L21.75 180.83 L22.42 180.92 L23.08 180.98 L23.75 181.03 L24.42 181.05 L25.08 181.05 L25.75 181.03 L26.42 180.98 L27.08 180.92 L27.75 180.83 L28.41 180.72 L29.07 180.59 L29.74 180.43 L30.39 180.26 L31.05 180.06 L31.71 179.85 L32.36 179.61 L33.01 179.35 L33.66 179.07 L34.30 178.77 L34.95 178.45 L35.59 178.11 L36.23 177.75 L36.86 177.37 L37.50 176.98 L38.13 176.56 L38.76 176.13 L39.39 175.68 L40.02 175.21 L40.65 174.72 L41.28 174.21 L41.90 173.69 L42.53 173.15 L43.16 172.60 L43.80 172.04 L43.20 171.36 L42.57 171.90 L41.93 172.42 L41.28 172.91 L40.64 173.38 L40.00 173.83 L39.35 174.26 L38.71 174.67 L38.07 175.05 L37.43 175.42 L36.79 175.77 L36.15 176.10 L35.52 176.41 L34.89 176.70 L34.26 176.97 L33.63 177.22 L33.00 177.45 L32.38 177.67 L31.76 177.87 L31.14 178.05 L30.53 178.22 L29.91 178.36 L29.30 178.49 L28.69 178.61 L28.08 178.71 L27.47 178.79 L26.87 178.85 L26.26 178.90 L25.66 178.93 L25.05 178.95 L24.45 178.95 L23.84 178.93 L23.24 178.90 L22.63 178.85 L22.03 178.79 L21.42 178.71 L20.81 178.61 L20.20 178.49 L19.59 178.36 L18.97 178.22 L18.36 178.05 L17.74 177.87 L17.12 177.67 L16.50 177.45 L15.87 177.22 L15.24 176.97 L14.61 176.70 L13.98 176.41 L13.35 176.10 L12.71 175.77 L12.07 175.42 L11.43 175.05 L10.79 174.67 L10.15 174.26 L9.50 173.83 L8.86 173.38 L8.22 172.91 L7.57 172.42 L6.93 171.90 L6.30 171.36Z" fill="#000"/>
<g transform="rotate(-90)" opacity="0.999"><text transform="translate(-317.22 34.20) scale(1.0409 0.9607)" font-family='"Liberation Serif",serif' font-style="normal" font-size="40.38" stroke="#fff" stroke-width="0.7">I</text><text transform="translate(-303.40 34.40) scale(1.0227 0.9778)" font-family='"Liberation Serif",serif' font-style="normal" font-size="37.33" stroke="#fff" stroke-width="0.7">m</text><text transform="translate(-274.82 35.23) scale(1.0012 0.9988)" font-family='"Liberation Serif",serif' font-style="italic" font-size="41.93" stroke="#fff" stroke-width="0.7">G</text><text transform="translate(-246.50 38.72) scale(1.0554 0.9475)" font-family='"Liberation Serif",serif' font-style="italic" font-size="28.64" >ψ</text><text transform="translate(-228.57 42.90) scale(1.0917 0.9160)" font-family='"Liberation Serif",serif' font-style="normal" font-size="19.51" >1</text><text transform="translate(-216.71 38.72) scale(1.0584 0.9448)" font-family='"Liberation Serif",serif' font-style="italic" font-size="28.72" >ψ</text><text transform="translate(-198.65 42.90) scale(1.0844 0.9222)" font-family='"Liberation Serif",serif' font-style="normal" font-size="19.38" >1</text><path d="M-165.73 17.49 L-165.99 17.86 L-166.26 18.25 L-166.52 18.67 L-166.77 19.10 L-167.02 19.55 L-167.26 20.01 L-167.49 20.48 L-167.72 20.97 L-167.94 21.47 L-168.15 21.97 L-168.35 22.49 L-168.55 23.00 L-168.73 23.53 L-168.91 24.05 L-169.09 24.58 L-169.25 25.11 L-169.40 25.64 L-169.54 26.17 L-169.67 26.70 L-169.79 27.23 L-169.89 27.76 L-169.97 28.28 L-170.03 28.80 L-170.06 29.23 L-170.07 29.64 L-170.07 30.05 L-170.04 30.44 L-169.99 30.82 L-169.92 31.19 L-169.83 31.55 L-169.72 31.89 L-169.59 32.22 L-169.44 32.53 L-169.27 32.82 L-169.07 33.10 L-168.86 33.36 L-168.63 33.59 L-168.38 33.80 L-168.11 33.99 L-167.83 34.15 L-167.53 34.29 L-167.23 34.39 L-166.92 34.47 L-166.60 34.51 L-166.28 34.53 L-165.94 34.52 L-165.48 34.46 L-165.01 34.33 L-164.57 34.14 L-164.15 33.90 L-163.75 33.62 L-163.38 33.30 L-163.02 32.94 L-162.68 32.55 L-162.35 32.13 L-162.03 31.68 L-161.72 31.19 L-161.42 30.69 L-161.13 30.15 L-160.85 29.59 L-160.57 29.01 L-160.30 28.40 L-160.04 27.77 L-159.79 27.11 L-159.55 26.43 L-159.32 25.73 L-159.10 25.01 L-158.90 24.27 L-158.71 23.52 L-159.59 23.29 L-159.78 24.03 L-159.98 24.75 L-160.20 25.44 L-160.43 26.12 L-160.67 26.76 L-160.93 27.39 L-161.21 27.98 L-161.50 28.54 L-161.80 29.07 L-162.11 29.57 L-162.43 30.03 L-162.76 30.45 L-163.10 30.83 L-163.43 31.17 L-163.77 31.46 L-164.10 31.72 L-164.42 31.93 L-164.73 32.09 L-165.02 32.22 L-165.29 32.30 L-165.54 32.34 L-165.76 32.35 L-165.99 32.33 L-166.11 32.31 L-166.25 32.27 L-166.37 32.23 L-166.49 32.18 L-166.59 32.13 L-166.69 32.07 L-166.79 32.00 L-166.88 31.92 L-166.97 31.83 L-167.06 31.73 L-167.15 31.62 L-167.24 31.49 L-167.33 31.35 L-167.42 31.18 L-167.50 31.00 L-167.59 30.80 L-167.67 30.58 L-167.75 30.34 L-167.82 30.07 L-167.89 29.79 L-167.95 29.48 L-168.01 29.15 L-168.05 28.80 L-168.09 28.35 L-168.12 27.89 L-168.13 27.41 L-168.12 26.92 L-168.09 26.42 L-168.05 25.91 L-167.98 25.40 L-167.90 24.88 L-167.80 24.37 L-167.68 23.85 L-167.54 23.34 L-167.39 22.83 L-167.22 22.33 L-167.04 21.84 L-166.84 21.36 L-166.64 20.89 L-166.42 20.43 L-166.20 19.98 L-165.97 19.56 L-165.73 19.15 L-165.49 18.75 L-165.25 18.38 L-164.99 18.03Z M-159.61 23.28 L-159.80 23.96 L-159.97 24.64 L-160.13 25.31 L-160.27 25.97 L-160.39 26.62 L-160.49 27.26 L-160.58 27.89 L-160.63 28.50 L-160.67 29.10 L-160.67 29.68 L-160.64 30.25 L-160.58 30.80 L-160.48 31.34 L-160.33 31.86 L-160.13 32.35 L-159.87 32.82 L-159.55 33.26 L-159.16 33.65 L-158.72 33.98 L-158.22 34.25 L-157.67 34.44 L-157.09 34.56 L-156.45 34.60 L-155.76 34.53 L-155.07 34.33 L-154.42 34.03 L-153.83 33.63 L-153.29 33.16 L-152.79 32.62 L-152.33 32.02 L-151.91 31.38 L-151.51 30.70 L-151.15 29.99 L-150.80 29.24 L-150.48 28.48 L-150.18 27.70 L-149.89 26.90 L-149.62 26.10 L-149.37 25.29 L-149.14 24.48 L-148.92 23.68 L-148.73 22.88 L-148.56 22.09 L-148.43 21.32 L-148.36 20.56 L-148.35 19.84 L-149.77 19.84 L-149.76 20.52 L-149.77 21.21 L-149.80 21.93 L-149.87 22.68 L-149.98 23.45 L-150.14 24.22 L-150.34 25.00 L-150.59 25.77 L-150.88 26.52 L-151.20 27.26 L-151.56 27.96 L-151.95 28.63 L-152.37 29.26 L-152.81 29.83 L-153.26 30.36 L-153.71 30.82 L-154.17 31.23 L-154.61 31.56 L-155.04 31.83 L-155.44 32.03 L-155.81 32.16 L-156.15 32.23 L-156.50 32.26 L-156.83 32.24 L-157.12 32.20 L-157.38 32.14 L-157.61 32.05 L-157.83 31.93 L-158.03 31.79 L-158.23 31.60 L-158.42 31.37 L-158.60 31.10 L-158.77 30.77 L-158.92 30.40 L-159.05 29.98 L-159.16 29.53 L-159.24 29.03 L-159.29 28.51 L-159.32 27.95 L-159.31 27.37 L-159.28 26.77 L-159.22 26.14 L-159.13 25.51 L-159.01 24.86 L-158.87 24.20 L-158.70 23.53Z" fill="#000"/><ellipse cx="-150.27" cy="19.18" rx="1.46" ry="1.48" fill="#000"/></g>
</svg>
</body></html>
